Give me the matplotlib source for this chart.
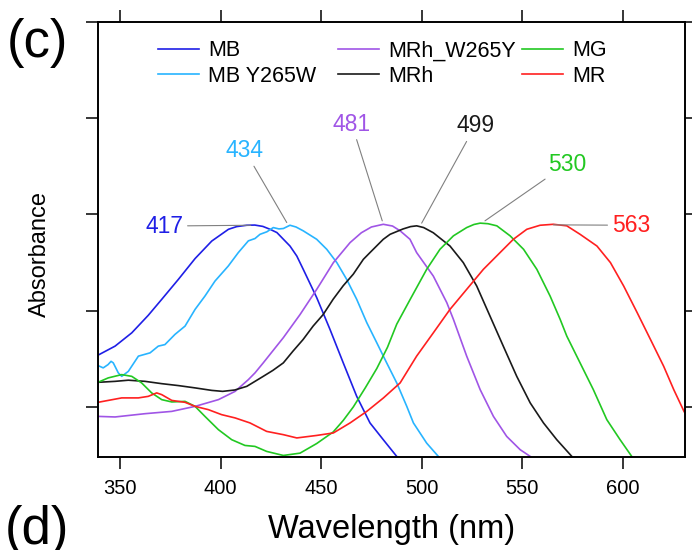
import matplotlib
matplotlib.use('Agg')
import matplotlib.pyplot as plt
from matplotlib.legend import Legend

plt.rcParams['font.family'] = ['Liberation Sans', 'DejaVu Sans']

# absorbance spectra (wavelength in nm, absorbance in arbitrary units)
mb_wl = [339, 347.5, 355.8, 364, 370.7, 379, 387.3, 395.6, 403.9, 408, 413, 417, 421, 424.6, 428, 434.5,
         437.9, 441.1, 447.8, 454.4, 461, 467.7, 474.3, 480.9, 487.6, 490]
mb_abs = [0.269, 0.316, 0.385, 0.476, 0.559, 0.663, 0.771, 0.862, 0.923, 0.937, 0.944, 0.945, 0.938, 0.923,
          0.906, 0.836, 0.784, 0.715, 0.568, 0.403, 0.229, 0.055, -0.083, -0.170, -0.257, -0.28]

mby_wl = [339, 341.6, 344, 345.5, 346.6, 349.1, 350.8, 354.1, 359.1, 364.9, 369, 372.3, 377.3, 382.3,
          387.3, 392.2, 397.2, 403.8, 408.8, 413.8, 417.1, 419.6, 423, 426.2, 429, 431.2, 434.5, 437.5,
          441.1, 447.8, 452.8, 457.8, 462.7, 467.7, 472.7, 477.7, 482.6, 487.6, 492.6, 495.9, 502.5,
          508.3, 510]
mby_abs = [0.215, 0.203, 0.22, 0.237, 0.229, 0.177, 0.159, 0.185, 0.264, 0.281, 0.316, 0.324, 0.377, 0.42,
           0.507, 0.576, 0.654, 0.732, 0.802, 0.863, 0.875, 0.897, 0.91, 0.932, 0.925, 0.927, 0.944, 0.935,
           0.915, 0.871, 0.819, 0.75, 0.663, 0.559, 0.438, 0.333, 0.229, 0.125, 0.003, -0.083, -0.188,
           -0.257, -0.28]

mrhw_wl = [339, 347.5, 362.4, 375.7, 387.3, 398.9, 407.2, 413.8, 417.1, 421.2, 431.2, 439.5, 447.8,
           456.1, 464.4, 470, 475, 480.9, 485.5, 489.3, 494.2, 497.5, 505.8, 512.5, 515.8, 522.4, 529.1,
           535.7, 542.3, 549, 554, 556]
mrhw_abs = [-0.049, -0.052, -0.035, -0.023, 0.003, 0.038, 0.081, 0.142, 0.177, 0.229, 0.36, 0.48, 0.611,
            0.75, 0.854, 0.905, 0.935, 0.949, 0.94, 0.915, 0.871, 0.802, 0.68, 0.542, 0.455, 0.264, 0.09,
            -0.049, -0.153, -0.222, -0.257, -0.27]

mrh_wl = [339, 347.5, 354.1, 362.4, 370.7, 379, 387.3, 395.6, 401, 407, 413, 421.2, 426, 431.2, 436,
          441, 446, 451, 456, 461, 466, 471, 474.3, 480.9, 484.3, 490.8, 494.5, 497.5, 501, 505.8, 510,
          514.1, 520.7, 527.4, 534, 540.6, 547.3, 554, 560.6, 567.2, 574.7, 577]
mrh_abs = [0.128, 0.133, 0.139, 0.133, 0.121, 0.111, 0.099, 0.086, 0.081, 0.088, 0.107, 0.159, 0.19,
           0.229, 0.29, 0.35, 0.42, 0.48, 0.56, 0.63, 0.69, 0.767, 0.802, 0.871, 0.897, 0.925, 0.937,
           0.941, 0.932, 0.905, 0.87, 0.836, 0.75, 0.628, 0.472, 0.316, 0.159, 0.021, -0.083, -0.17,
           -0.257, -0.28]

mg_wl = [339, 344.1, 350.8, 355.8, 360.7, 365.7, 370.7, 375.7, 382.3, 387.3, 392.2, 398.9, 405.5,
         412.1, 417.1, 422.9, 431.2, 439.5, 447.8, 456, 461, 466, 472, 477.7, 483, 487.6, 494.3,
         502.5, 509.1, 515.8, 522.4, 526, 529.1, 533, 537.4, 544, 550.7, 557.3, 563.9, 568.9, 572.2,
         578.8, 585.4, 592.1, 598.7, 604.5, 606]
mg_abs = [0.128, 0.151, 0.168, 0.159, 0.125, 0.073, 0.038, 0.026, 0.029, 0.003, -0.049, -0.118, -0.17,
          -0.2, -0.205, -0.231, -0.252, -0.24, -0.19, -0.13, -0.07, 0.0, 0.1, 0.2, 0.31, 0.43, 0.559,
          0.715, 0.819, 0.889, 0.932, 0.948, 0.955, 0.952, 0.941, 0.889, 0.819, 0.715, 0.576, 0.455,
          0.368, 0.229, 0.09, -0.066, -0.17, -0.257, -0.28]

mr_wl = [339, 344.1, 350.8, 359.1, 364, 368.2, 370.7, 375.7, 382.3, 387.3, 393.9, 400.5, 407.2, 414.6,
         422.9, 431.2, 437.9, 447.8, 456.1, 464.4, 472.7, 481, 489.3, 497.5, 505.8, 514.1, 522.4,
         530.7, 539, 545.6, 552.3, 558.9, 565.5, 572.2, 578.8, 587.2, 593.9, 600.5, 607.2, 613.8,
         620.4, 625.4, 630.5, 632]
mr_abs = [0.024, 0.034, 0.047, 0.047, 0.055, 0.073, 0.064, 0.034, 0.024, 0.003, -0.014, -0.04, -0.057,
          -0.083, -0.127, -0.144, -0.161, -0.148, -0.135, -0.083, -0.023, 0.047, 0.125, 0.264, 0.385,
          0.507, 0.611, 0.715, 0.802, 0.871, 0.923, 0.944, 0.949, 0.941, 0.897, 0.836, 0.75, 0.628,
          0.49, 0.351, 0.211, 0.09, -0.023, -0.05]

names = ['MB', 'MB Y265W', 'MRh_W265Y', 'MRh', 'MG', 'MR']
colors = ['#1f1fe6', '#28b4ff', '#a055e6', '#1a1a1a', '#22c822', '#ff2020']
curves = [(mb_wl, mb_abs), (mby_wl, mby_abs), (mrhw_wl, mrhw_abs),
          (mrh_wl, mrh_abs), (mg_wl, mg_abs), (mr_wl, mr_abs)]

# peak labels: text, peak point, label position
peak_labels = ['417', '434', '481', '499', '530', '563']
peak_xy = [(415, 0.944), (432.9, 0.958), (480.4, 0.967), (500, 0.955), (531.5, 0.967), (565.5, 0.946)]
label_xy = [(381.5, 0.94), (412.1, 1.331), (465.2, 1.47), (526.6, 1.46), (572.2, 1.262), (594.5, 0.944)]
label_ha = ['right', 'center', 'center', 'center', 'center', 'left']

fig = plt.figure(figsize=(6.92, 5.5), dpi=100)
ax = fig.add_axes([0.1416, 0.1691, 0.8483, 0.7909])

lines = []
for (wl, ab), name, c in zip(curves, names, colors):
    ln, = ax.plot(wl, ab, color=c, lw=1.2, label=name)
    lines.append(ln)

for txt, xy, xyt, ha, c in zip(peak_labels, peak_xy, label_xy, label_ha, colors):
    ax.annotate(txt, xy=xy, xytext=xyt, textcoords='data', ha=ha, va='center',
                color=c, fontsize=16.5,
                arrowprops=dict(arrowstyle='-', color='#808080', lw=0.8, shrinkA=1, shrinkB=0))

ax.set_xlim(339, 631)
ax.set_ylim(-0.26, 2.0)
ax.set_xticks([350, 400, 450, 500, 550, 600])
ax.set_yticks([0, 0.5, 1.0, 1.5, 2.0])
ax.set_yticklabels([])
ax.tick_params(axis='both', which='both', direction='out', length=8.5, width=1.1,
               top=True, right=True, labeltop=False, labelright=False, labelsize=14.5)
ax.tick_params(axis='x', pad=7)
for sp in ax.spines.values():
    sp.set_linewidth(1.4)

ax.set_xlabel('Wavelength (nm)', fontsize=23.5, labelpad=12)
ax.set_ylabel('Absorbance', fontsize=17)
ax.yaxis.set_label_coords(-0.08, 0.466)

# legend in three columns, each placed on its own
col_idx = [[0, 1], [2, 3], [4, 5]]
col_x = [0.1022, 0.4089, 0.7223]
for idx, x in zip(col_idx, col_x):
    leg = Legend(ax, [lines[i] for i in idx], [names[i] for i in idx],
                 loc='upper left', bbox_to_anchor=(x, 0.958), frameon=False,
                 fontsize=15.5, handlelength=1.9, handletextpad=0.44,
                 labelspacing=0.2, borderpad=0, borderaxespad=0)
    ax.add_artist(leg)

# panel letters
fig.text(0.0535, 0.967, '(c)', fontsize=38, ha='center', va='top')
fig.text(0.0535, 0.082, '(d)', fontsize=38, ha='center', va='top')

fig.savefig('out.png', dpi=100)
